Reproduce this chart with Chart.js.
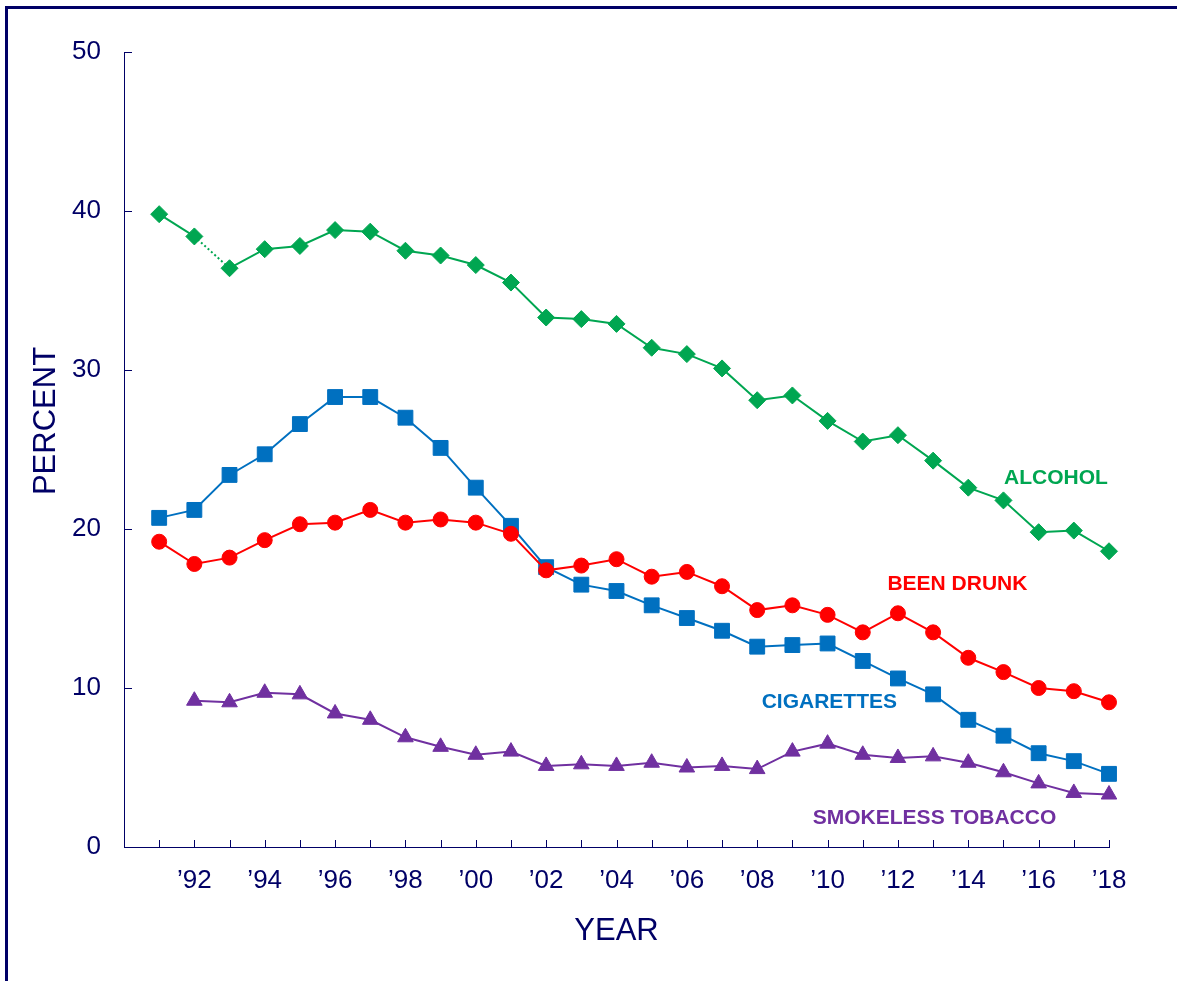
<!DOCTYPE html>
<html><head><meta charset="utf-8">
<script src="https://cdn.jsdelivr.net/npm/chart.js@4.4.1/dist/chart.umd.min.js"></script>
<style>
html,body{margin:0;padding:0;background:#fff;overflow:hidden;}
#wrap{position:relative;width:1177px;height:981px;overflow:hidden;}
#frame{position:absolute;left:5px;top:6px;width:1300px;height:1100px;border:3px solid #000066;box-sizing:border-box;pointer-events:none;}
canvas{position:absolute;left:0;top:0;}
</style></head><body>
<div id="wrap"><canvas id="c" width="1177" height="981"></canvas><div id="frame"></div></div>
<script>
const years = [1991,1992,1993,1994,1995,1996,1997,1998,1999,2000,2001,2002,2003,2004,2005,2006,2007,2008,2009,2010,2011,2012,2013,2014,2015,2016,2017,2018];
const alcohol    = [39.8,38.4,36.4,37.6,37.8,38.8,38.7,37.5,37.2,36.6,35.5,33.3,33.2,32.9,31.4,31.0,30.1,28.1,28.4,26.8,25.5,25.9,24.3,22.6,21.8,19.8,19.9,18.6];
const beenDrunk  = [19.2,17.8,18.2,19.3,20.3,20.4,21.2,20.4,20.6,20.4,19.7,17.4,17.7,18.1,17.0,17.3,16.4,14.9,15.2,14.6,13.5,14.7,13.5,11.9,11.0,10.0,9.8,9.1];
const cigarettes = [20.7,21.2,23.4,24.7,26.6,28.3,28.3,27.0,25.1,22.6,20.2,17.6,16.5,16.1,15.2,14.4,13.6,12.6,12.7,12.8,11.7,10.6,9.6,8.0,7.0,5.9,5.4,4.6];
const smokeless  = [null,9.2,9.1,9.7,9.6,8.4,8.0,6.9,6.3,5.8,6.0,5.1,5.2,5.1,5.3,5.0,5.1,4.9,6.0,6.5,5.8,5.6,5.7,5.3,4.7,4.0,3.4,3.3];
const seriesNames = ['ALCOHOL','BEEN DRUNK','CIGARETTES','SMOKELESS TOBACCO'];
const tickYears  = [1992,1994,1996,1998,2000,2002,2004,2006,2008,2010,2012,2014,2016,2018];
const tickLabels = ['\u201992','\u201994','\u201996','\u201998','\u201900','\u201902','\u201904','\u201906','\u201908','\u201910','\u201912','\u201914','\u201916','\u201918'];
const yTicks = [0,10,20,30,40,50];

const NAVY = '#000066';
const GREEN = '#00A651', RED = '#FF0000', BLUE = '#0070C0', PURPLE = '#7030A0';
const FONT = '"Liberation Sans", Arial, Helvetica, sans-serif';
Chart.defaults.font.family = FONT;

function pts(arr){ return years.map((y,i)=>({x:y, y:arr[i]})); }

const overlay = {
  id:'overlay',
  beforeDatasetsDraw(chart){
    const {ctx, chartArea:a, scales:{x, y}} = chart;
    ctx.save();
    ctx.strokeStyle = NAVY; ctx.lineWidth = 1;
    years.forEach(yr=>{
      const px = Math.round(x.getPixelForValue(yr))+0.5;
      ctx.beginPath(); ctx.moveTo(px, a.bottom); ctx.lineTo(px, a.bottom-7); ctx.stroke();
    });
    yTicks.forEach(v=>{
      if(v===0) return;
      const py = Math.round(y.getPixelForValue(v))+0.5;
      ctx.beginPath(); ctx.moveTo(a.left, py); ctx.lineTo(a.left+8, py); ctx.stroke();
    });
    ctx.restore();
  },
  afterDraw(chart){
    const {ctx, scales:{x, y}} = chart;
    ctx.save();
    const lab = [
      [seriesNames[0], 2016.49, 23.2, GREEN],
      [seriesNames[1], 2013.69, 16.5, RED],
      [seriesNames[2], 2010.05, 9.08, BLUE],
      [seriesNames[3], 2013.04, 1.84, PURPLE]
    ];
    ctx.font = 'bold 21px ' + FONT;
    ctx.textAlign = 'center'; ctx.textBaseline = 'middle';
    lab.forEach(([t,xv,yv,c])=>{
      ctx.fillStyle = c;
      ctx.fillText(t, x.getPixelForValue(xv), y.getPixelForValue(yv));
    });
    ctx.fillStyle = NAVY;
    ctx.font = '31px ' + FONT;
    ctx.translate(46, 421);
    ctx.rotate(-Math.PI/2);
    ctx.fillText('PERCENT', 0, 0);
    ctx.restore();
  }
};

new Chart(document.getElementById('c'), {
  type:'line',
  data:{
    datasets:[
      {label:seriesNames[0], data:pts(alcohol), borderColor:GREEN, backgroundColor:GREEN, pointStyle:'rectRot', pointRadius:8.5, pointBorderWidth:1, borderWidth:2, clip:false,
       segment:{borderDash: c => c.p0DataIndex===1 ? [2,2.5] : undefined}},
      {label:seriesNames[1], data:pts(beenDrunk), borderColor:RED, backgroundColor:RED, pointStyle:'circle', pointRadius:7.5, pointBorderWidth:1, borderWidth:2, clip:false},
      {label:seriesNames[2], data:pts(cigarettes), borderColor:BLUE, backgroundColor:BLUE, pointStyle:'rect', pointRadius:10.5, pointBorderWidth:1, borderWidth:2, clip:false},
      {label:seriesNames[3], data:pts(smokeless), borderColor:PURPLE, backgroundColor:PURPLE, pointStyle:'triangle', pointRadius:9, pointBorderWidth:1, borderWidth:2, clip:false}
    ]
  },
  options:{
    responsive:false, animation:false,
    layout:{padding:{left:0, top:52, right:68, bottom:0}},
    plugins:{legend:{display:false}, tooltip:{enabled:false}},
    elements:{line:{tension:0}},
    scales:{
      x:{type:'linear', min:1990, max:2018,
        border:{display:true, color:NAVY, width:1},
        grid:{display:false, drawTicks:false},
        ticks:{stepSize:1, autoSkip:false, maxRotation:0, padding:18, color:NAVY, font:{size:26},
          callback:(v)=>{const i=tickYears.indexOf(v); return i>=0?tickLabels[i]:'';}},
        title:{display:true, text:'YEAR', color:NAVY, font:{size:31}, padding:{top:0,bottom:31}},
        afterFit(s){ s.height = 134; }
      },
      y:{min:0, max:50,
        border:{display:true, color:NAVY, width:1},
        grid:{display:false, drawTicks:false},
        ticks:{stepSize:10, padding:23, color:NAVY, font:{size:26}},
        afterFit(s){ s.width = 124; }
      }
    }
  },
  plugins:[overlay]
});
</script>
</body></html>
